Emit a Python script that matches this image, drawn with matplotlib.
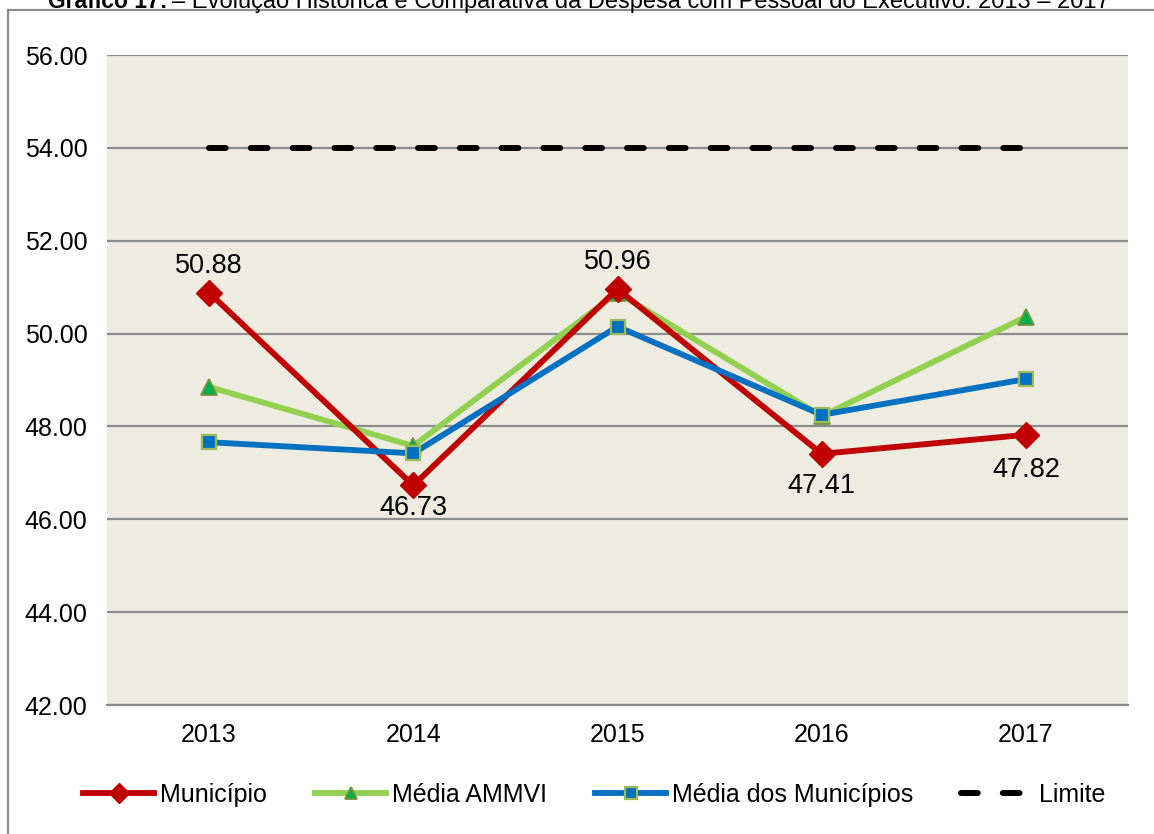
import matplotlib
matplotlib.use("Agg")
import matplotlib.pyplot as plt
from matplotlib.patches import Rectangle

plt.rcParams['font.family'] = ['Liberation Sans', 'DejaVu Sans']

years = ["2013", "2014", "2015", "2016", "2017"]
municipio = [50.88, 46.73, 50.96, 47.41, 47.82]
media_ammvi = [48.85, 47.58, 50.88, 48.22, 50.36]
media_municipios = [47.66, 47.42, 50.15, 48.25, 49.02]
limite = [54.0, 54.0, 54.0, 54.0, 54.0]
yticks = [42, 44, 46, 48, 50, 52, 54, 56]

# label offsets (points) for the Município data labels
label_offsets = [19.5, -16.5, 19.5, -23, -25]

W, H = 1154, 834
fig = plt.figure(figsize=(W / 100, H / 100), dpi=100)

# outer frame
fig.patches.append(Rectangle((8 / W, -0.05), 1.2, (H - 10) / H + 0.05, transform=fig.transFigure,
                             fill=False, edgecolor='#8c8c8c', linewidth=1.6))

ax = fig.add_axes([107 / W, (H - 705) / H, (1128 - 107) / W, (705 - 55) / H])
ax.set_facecolor('#eeebe1')
x = list(range(len(years)))

ax.set_xlim(-0.5, 4.5)
ax.set_ylim(42, 56)
ax.set_yticks(yticks)
ax.set_yticklabels([f"{v:.2f}" for v in yticks], fontsize=18)
ax.set_xticks(x)
ax.set_xticklabels(years, fontsize=18)
ax.tick_params(axis='both', length=0)
ax.tick_params(axis='y', pad=14)
ax.tick_params(axis='x', pad=13)
ax.grid(axis='y', color='#8c8c8c', linewidth=1.6)
ax.set_axisbelow(True)
for s in ['left', 'right', 'top']:
    ax.spines[s].set_visible(False)
ax.spines['bottom'].set_color('#8c8c8c')
ax.spines['bottom'].set_linewidth(1.6)

l_lim, = ax.plot(x, limite, color='black', linewidth=4.3, dashes=(2.8, 4.2),
                 dash_capstyle='round', label='Limite', zorder=3)
l_amm, = ax.plot(x, media_ammvi, color='#92d050', linewidth=4.2, marker='^', markersize=11,
                 markerfacecolor='#00b050', markeredgecolor='#77933c', markeredgewidth=1.3,
                 label='Média AMMVI', zorder=4)
l_mun, = ax.plot(x, municipio, color='#c00000', linewidth=4.2, marker='D', markersize=13,
                 markerfacecolor='#c00000', markeredgecolor='#c00000',
                 label='Município', zorder=5)
l_med, = ax.plot(x, media_municipios, color='#0070c0', linewidth=4.2, marker='s', markersize=10,
                 markerfacecolor='#0070c0', markeredgecolor='#9bbb59', markeredgewidth=1.6,
                 label='Média dos Municípios', zorder=6)

for xi, v, off in zip(x, municipio, label_offsets):
    ax.annotate(f"{v:.2f}", (xi, v), xytext=(0, off), textcoords='offset points',
                ha='center', va='center', fontsize=19.5, color='black', zorder=7)

fig.legend(handles=[l_mun, l_amm, l_med, l_lim],
           labels=['Município', 'Média AMMVI', 'Média dos Municípios', 'Limite'],
           loc='center', bbox_to_anchor=(594 / W, 1 - 795 / H), ncol=4, frameon=False,
           fontsize=18, handlelength=2.85, handletextpad=0.25, columnspacing=1.9,
           borderpad=0, borderaxespad=0, markerscale=0.8)

fig.text(48 / W, 1 - 8 / H, "Gráfico 17:", fontsize=16.5, fontweight='bold', va='baseline', ha='left')
fig.text(172 / W, 1 - 8 / H, "– Evolução Histórica e Comparativa da Despesa com Pessoal do Executivo: 2013 – 2017",
         fontsize=17, va='baseline', ha='left')

fig.savefig("out.png", dpi=100)
